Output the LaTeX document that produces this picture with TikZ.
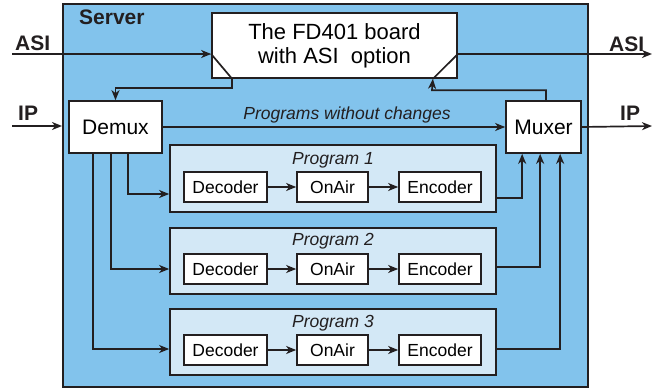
\documentclass[tikz,border=0pt]{standalone}
\usepackage{fontspec}
\setmainfont{Liberation Sans}
\usetikzlibrary{arrows.meta,calc}
\definecolor{srvblue}{HTML}{82C3EC}
\definecolor{prgblue}{HTML}{D3E8F6}
\definecolor{ink}{HTML}{231F20}
\tikzset{
  line/.style={draw=ink,line width=1.7pt},
  arr/.style={line,-{Stealth[length=10pt,width=8pt,inset=3pt]}},
  bigbox/.style={draw=ink,line width=1.7pt,fill=white,inner sep=0pt,font=\fontsize{21}{24}\selectfont},
  smallbox/.style={draw=ink,line width=1.7pt,fill=white,inner sep=0pt,minimum height=30pt,font=\fontsize{17.5}{20}\selectfont},
  prgbox/.style={draw=ink,line width=1.7pt,fill=prgblue,inner sep=0pt,minimum width=326pt},
  prglabel/.style={anchor=base,font=\fontsize{17.5}{20}\selectfont\itshape,text=ink},
  boldlabel/.style={anchor=base west,inner sep=0pt,font=\fontsize{21}{24}\selectfont\bfseries,text=ink},
}
\begin{document}
\begin{tikzpicture}[x=1pt,y=-1pt]
\useasboundingbox (0,0) rectangle (656,388);
% server
\node[draw=ink,line width=2pt,fill=srvblue,minimum width=525pt,minimum height=383pt,inner sep=0pt] (server) at (325.5,195.5) {};
\node[boldlabel] (srvlbl) at (79,24) {Server};
% board
\node[bigbox,minimum width=245pt,minimum height=65pt,align=center,font=\fontsize{22}{24}\selectfont] (board) at (334.5,45.5) {The FD401 board\\with ASI\ \ option};
% demux and muxer
\node[bigbox,minimum width=93pt,minimum height=52pt] (demux) at (115.5,127) {Demux};
\node[bigbox,minimum width=75pt,minimum height=52pt] (muxer) at (543.5,127) {Muxer};
% program boxes
\node[prgbox,minimum height=67pt] (p1) at (333,178.5) {};
\node[prgbox,minimum height=66pt] (p2) at (333,261) {};
\node[prgbox,minimum height=66pt] (p3) at (333,342) {};
\node[prglabel] (l1) at (333,164) {Program 1};
\node[prglabel] (l2) at (333,245) {Program 2};
\node[prglabel] (l3) at (333,327) {Program 3};
\foreach \i/\y in {1/187,2/269,3/350}{
  \node[smallbox,minimum width=83pt] (dec\i) at (225.5,\y) {Decoder};
  \node[smallbox,minimum width=71pt] (air\i) at (332.5,\y) {OnAir};
  \node[smallbox,minimum width=82pt] (enc\i) at (440,\y) {Encoder};
  \draw[arr] (dec\i) -- (air\i);
  \draw[arr] (air\i) -- (enc\i);
}
% outside labels
\node[boldlabel] (asil) at (15,50) {ASI};
\node[boldlabel] (ipl) at (18,120) {IP};
\node[boldlabel] (asir) at (609,51) {ASI};
\node[boldlabel] (ipr) at (620,120) {IP};
% ASI in / out
\coordinate (asiin) at (12,54);
\coordinate (asiout) at (652,54);
\coordinate (ipin) at (12,126);
\coordinate (ipout) at (652,126);
\draw[arr] (asiin) -- (asiin -| board.west);
\draw[line] (asiin -| board.west) -- ($(board.south west)+(21,0)$);
\draw[arr] ($(board.south west)+(21,0)$) -- ++(0,9) -| (demux.north);
\draw[arr] (board.east |- asiout) -- (asiout);
\draw[line] (board.east |- asiout) -- ($(board.south east)+(-25,0)$);
\draw[arr] ($(muxer.north)+(2.5,0)$) |- ++(-114,-10) -- ($(board.south east)+(-25,0)$);
% IP
\draw[arr] (ipin) -- (ipin -| server.west);
\draw[arr] (muxer.east) -- (ipout);
% programs without changes
\draw[arr] (demux.east) -- (muxer.west);
\node[anchor=base,font=\fontsize{17.5}{20}\selectfont\itshape,text=ink] (pwc) at (347,119) {Programs without changes};
% demux to programs
\draw[arr] ($(demux.south west)+(60,0)$) |- (p1.west |- 0,194);
\draw[arr] ($(demux.south west)+(43,0)$) |- (p2.west |- 0,269);
\draw[arr] ($(demux.south west)+(25,0)$) |- (p3.west |- 0,349);
% programs to muxer
\draw[arr] (p1.east |- 0,198) -| ($(muxer.south west)+(17,0)$);
\draw[arr] (p2.east |- 0,267) -| ($(muxer.south west)+(35,0)$);
\draw[arr] (p3.east |- 0,349) -| ($(muxer.south west)+(55,0)$);
\end{tikzpicture}
\end{document}
